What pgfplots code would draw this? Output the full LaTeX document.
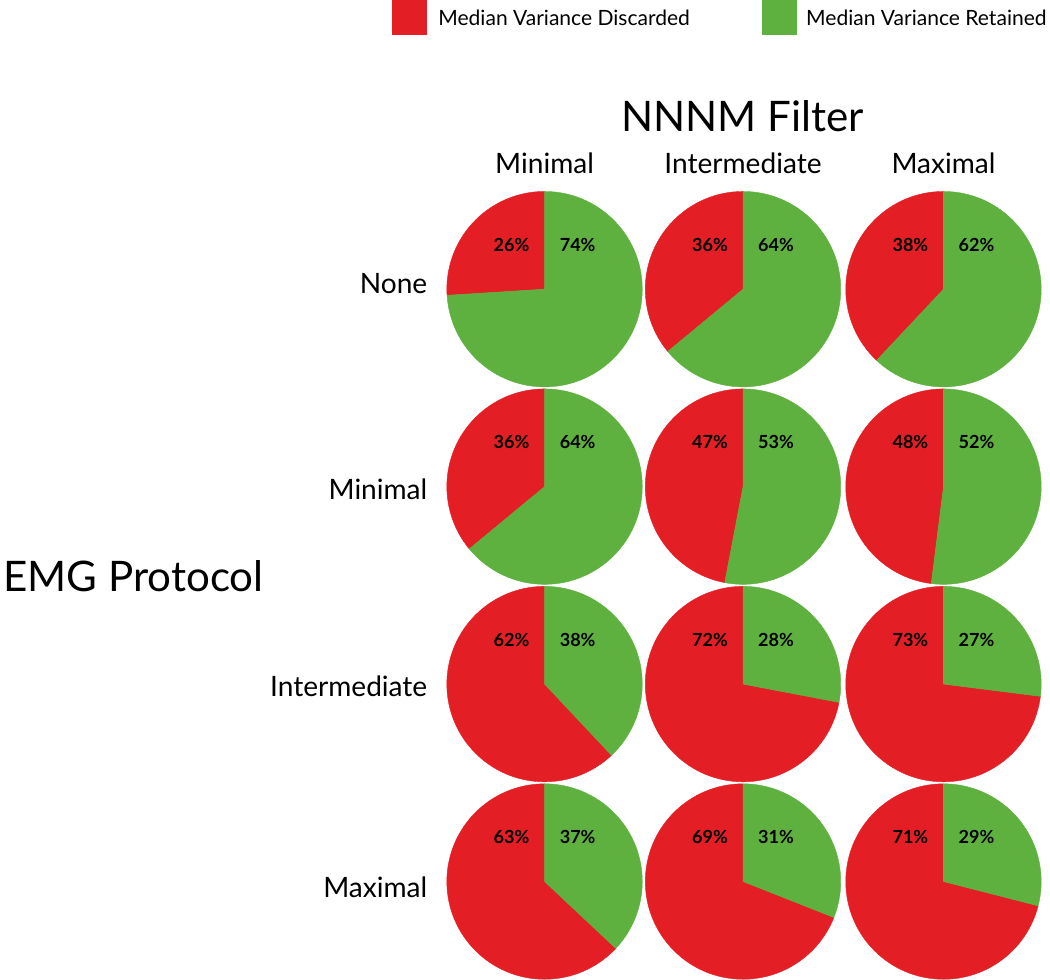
\documentclass[border=0pt]{standalone}
\usepackage{fontspec}
\setmainfont{Lato}
\usepackage{pgfplots}
\usepackage{pgfplotstable}
\pgfplotsset{compat=1.18}

\definecolor{discred}{RGB}{227,30,36}
\definecolor{retgreen}{RGB}{94,176,63}
\pgfdeclareplotmark{nothing}{}

% pie centres (pixel grid of the reference) and percentages
\pgfplotstableread{
cx    cy     disc ret
545.5 288.5  26   74
743.5 288.5  36   64
943.5 288.5  38   62
545.5 485.5  36   64
743.5 485.5  47   53
943.5 485.5  48   52
545.5 682.5  62   38
743.5 682.5  72   28
943.5 682.5  73   27
545.5 879.5  63   37
743.5 879.5  69   31
943.5 879.5  71   29
}\piedata

\begin{document}
\begin{tikzpicture}
\begin{axis}[
    x=1pt, y=1pt, y dir=reverse,
    xmin=0, xmax=1050, ymin=0, ymax=989,
    hide axis, clip=false,
    /pgf/number format/assume math mode=true,
]
% each pie is a custom scatter mark
\addplot[
    only marks, mark=nothing, scatter,
    visualization depends on={\thisrow{disc}\as\disc},
    visualization depends on={\thisrow{ret}\as\ret},
    scatter/@pre marker code/.code={
        \fill[discred] (0,0) -- (0,97.5pt) arc[start angle=90, delta angle=3.6*\disc, radius=97.5pt] -- cycle;
        \fill[retgreen] (0,0) -- (0,97.5pt) arc[start angle=90, delta angle=-3.6*\ret, radius=97.5pt] -- cycle;
        \node[font=\fontsize{18}{20}\selectfont\bfseries, anchor=base] at (-33pt,38pt) {\pgfmathprintnumber[assume math mode=true]{\disc}\%};
        \node[font=\fontsize{18}{20}\selectfont\bfseries, anchor=base] at (33pt,38pt) {\pgfmathprintnumber[assume math mode=true]{\ret}\%};
    },
    scatter/@post marker code/.code={},
] table[x=cx, y=cy] {\piedata};

% legend
\fill[discred] (axis cs:393,0) rectangle (axis cs:428,35);
\node[anchor=base west, font=\fontsize{21}{24}\selectfont] at (axis cs:436,25) {Median Variance Discarded};
\fill[retgreen] (axis cs:762,0) rectangle (axis cs:797,35);
\node[anchor=base west, font=\fontsize{21}{24}\selectfont] at (axis cs:803,25) {Median Variance Retained};

% titles
\node[anchor=base, font=\fontsize{42}{48}\selectfont] at (axis cs:743,131) {NNNM Filter};
\node[anchor=base west, font=\fontsize{42}{48}\selectfont] at (axis cs:2,590) {EMG Protocol};

% column headers
\node[anchor=base, font=\fontsize{28}{32}\selectfont] at (axis cs:545.5,173) {Minimal};
\node[anchor=base, font=\fontsize{28}{32}\selectfont] at (axis cs:743.5,173) {Intermediate};
\node[anchor=base, font=\fontsize{28}{32}\selectfont] at (axis cs:943.5,173) {Maximal};

% row headers
\node[anchor=base east, font=\fontsize{28}{32}\selectfont] at (axis cs:432,293) {None};
\node[anchor=base east, font=\fontsize{28}{32}\selectfont] at (axis cs:432,498) {Minimal};
\node[anchor=base east, font=\fontsize{28}{32}\selectfont] at (axis cs:432,695) {Intermediate};
\node[anchor=base east, font=\fontsize{28}{32}\selectfont] at (axis cs:432,895) {Maximal};
\end{axis}
\end{tikzpicture}
\end{document}
